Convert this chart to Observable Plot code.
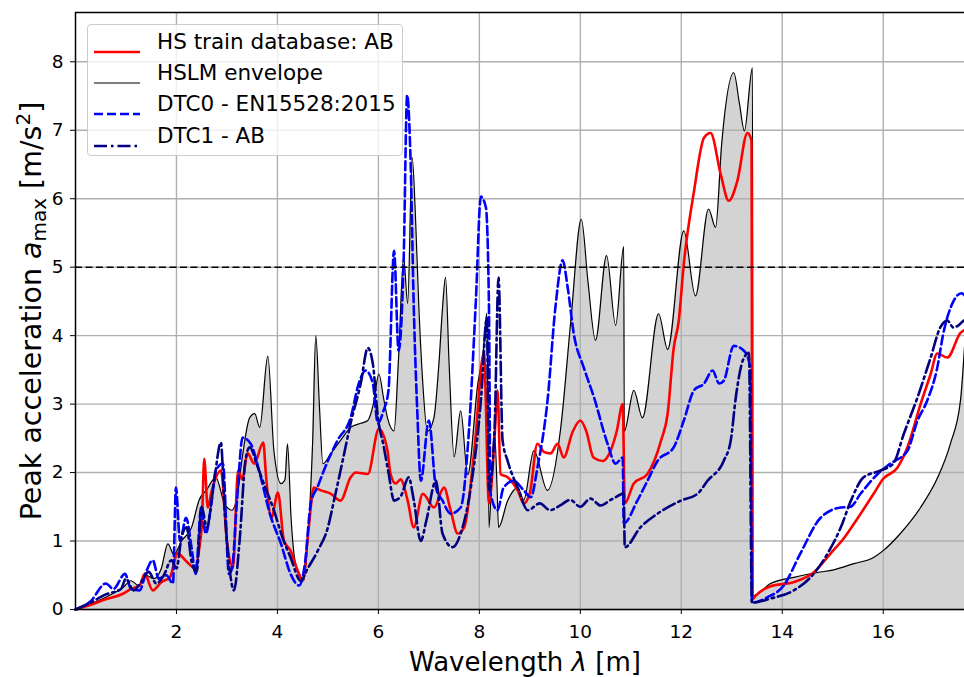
<!DOCTYPE html>
<html>
<head>
<meta charset="utf-8">
<script src="https://cdn.jsdelivr.net/npm/d3@7"></script>
<script src="https://cdn.jsdelivr.net/npm/@observablehq/plot@0.6"></script>
<style>
  html, body { margin: 0; padding: 0; overflow: hidden; background: #fff; }
  #wrap { position: relative; width: 964px; height: 677px; overflow: hidden; }
  #wrap > svg { position: absolute; left: 0; top: 0; }
  .legend {
    position: absolute; left: 87px; top: 24px; width: 314px; height: 130px;
    background: rgba(255,255,255,0.8); border: 1px solid #cccccc; border-radius: 4px;
    font-family: "DejaVu Sans", sans-serif; font-size: 21.5px; color: #000;
  }
  .legend .sample { position: absolute; left: 6px; width: 48px; height: 10px; }
  .legend .name { position: absolute; left: 69px; white-space: nowrap; line-height: 1; }
</style>
</head>
<body>
<div id="wrap"></div>
<script>
// Peak acceleration vs. wavelength, [wavelength m, a_max m/s²]
const hslmEnvelope = [[0,0],[0.3,0.08],[0.6,0.18],[0.94,0.32],[1.1,0.42],[1.25,0.35],[1.4,0.5],[1.55,0.45],[1.7,0.6],[1.83,0.96],[1.95,0.8],[2.1,1.0],[2.3,1.2],[2.45,1.6],[2.6,1.75],[2.78,1.93],[2.95,1.55],[3.1,1.45],[3.2,1.64],[3.3,2.2],[3.45,2.8],[3.55,2.86],[3.65,2.66],[3.81,3.7],[3.93,2.32],[4.07,1.84],[4.15,1.9],[4.2,2.42],[4.27,1.34],[4.35,0.7],[4.45,0.5],[4.52,0.42],[4.6,1.0],[4.7,2.5],[4.76,4.0],[4.83,3.0],[4.9,2.13],[5.06,2.28],[5.25,2.47],[5.45,2.66],[5.65,2.72],[5.79,2.76],[5.9,3.0],[6.01,3.44],[6.1,3.1],[6.18,2.8],[6.31,2.61],[6.4,3.68],[6.5,5.14],[6.58,4.47],[6.67,6.6],[6.73,5.82],[6.8,4.44],[6.88,3.3],[6.97,2.6],[7.1,2.8],[7.2,3.6],[7.27,4.4],[7.33,4.85],[7.4,3.6],[7.5,2.23],[7.63,2.9],[7.77,1.97],[7.97,3.3],[8.07,3.72],[8.15,4.33],[8.19,1.2],[8.25,2.0],[8.3,2.6],[8.35,1.8],[8.38,1.2],[8.56,1.59],[8.76,1.78],[8.88,1.6],[9.08,2.32],[9.35,1.74],[9.61,2.64],[9.81,4.2],[10.02,5.7],[10.15,4.8],[10.3,3.93],[10.52,5.17],[10.7,4.15],[10.86,5.3],[10.87,2.6],[11.06,3.2],[11.23,2.8],[11.55,4.32],[11.73,3.8],[12.05,5.53],[12.28,4.58],[12.54,5.85],[12.68,5.58],[12.8,6.8],[13.04,7.84],[13.15,7.4],[13.25,6.99],[13.41,7.91],[13.42,0.2],[13.77,0.38],[14.23,0.47],[14.7,0.54],[15.02,0.58],[15.42,0.67],[15.81,0.76],[16.0,0.86],[16.34,1.11],[16.74,1.49],[17.08,1.93],[17.33,2.42],[17.53,3.05],[17.62,3.95]];

const hsTrainAB = [[0,0],[0.3,0.07],[0.6,0.15],[0.94,0.23],[1.1,0.3],[1.27,0.35],[1.37,0.52],[1.53,0.28],[1.7,0.4],[1.87,0.47],[2.02,0.82],[2.2,0.7],[2.35,0.61],[2.5,1.2],[2.55,2.2],[2.62,1.49],[2.7,1.74],[2.88,2.03],[3.0,1.0],[3.12,0.61],[3.22,2.03],[3.3,1.9],[3.41,2.28],[3.54,2.13],[3.72,2.44],[3.77,1.99],[3.88,1.34],[4.01,1.71],[4.13,1.0],[4.26,0.86],[4.4,0.57],[4.5,0.42],[4.62,1.2],[4.72,1.78],[4.86,1.74],[5.06,1.69],[5.25,1.59],[5.45,1.93],[5.55,2.0],[5.79,1.98],[6.01,2.64],[6.18,2.32],[6.24,1.98],[6.34,1.84],[6.44,1.9],[6.58,1.59],[6.7,1.2],[6.88,1.69],[7.1,1.49],[7.3,1.78],[7.43,1.45],[7.57,1.11],[7.7,1.2],[7.9,2.32],[8.09,3.75],[8.19,1.55],[8.3,2.5],[8.36,3.2],[8.42,1.98],[8.56,1.93],[8.76,1.74],[8.88,1.55],[9.0,1.7],[9.15,2.42],[9.28,2.3],[9.41,2.28],[9.55,2.42],[9.67,2.22],[9.85,2.6],[10.0,2.76],[10.12,2.6],[10.26,2.22],[10.44,2.17],[10.6,2.32],[10.72,2.6],[10.84,3.0],[10.88,1.55],[11.06,1.84],[11.33,1.98],[11.6,2.47],[11.73,2.86],[11.85,3.82],[11.95,4.22],[12.05,5.05],[12.25,6.1],[12.45,6.89],[12.58,6.96],[12.78,6.36],[12.94,5.97],[13.11,6.26],[13.31,6.96],[13.39,6.85],[13.41,0.15],[13.47,0.2],[13.77,0.34],[14.23,0.4],[14.62,0.54],[14.96,0.82],[15.22,1.04],[15.49,1.33],[15.81,1.69],[16.0,1.91],[16.28,2.07],[16.48,2.37],[16.74,3.0],[16.94,3.44],[17.07,3.74],[17.27,3.68],[17.53,4.04],[17.65,4.1]];

const dtc0EN15528 = [[0,0],[0.3,0.12],[0.6,0.38],[0.75,0.3],[0.98,0.52],[1.1,0.3],[1.27,0.28],[1.4,0.55],[1.53,0.72],[1.65,0.45],[1.8,0.5],[1.93,0.38],[1.99,1.78],[2.07,1.0],[2.19,1.34],[2.3,0.9],[2.38,0.52],[2.49,1.49],[2.58,1.11],[2.7,1.6],[2.78,2.03],[2.92,2.13],[3.04,0.52],[3.1,0.6],[3.2,1.6],[3.31,2.51],[3.47,2.42],[3.67,1.93],[3.85,1.4],[4.07,0.96],[4.26,0.52],[4.43,0.35],[4.55,0.7],[4.66,1.55],[4.8,1.8],[4.92,2.03],[5.19,2.47],[5.45,2.8],[5.61,3.3],[5.75,3.49],[5.89,3.3],[5.99,2.72],[6.1,2.9],[6.2,3.2],[6.31,5.24],[6.4,3.78],[6.5,5.1],[6.57,7.51],[6.64,6.49],[6.7,4.44],[6.77,2.9],[6.84,1.88],[7.0,2.76],[7.14,1.78],[7.27,1.59],[7.43,1.4],[7.63,1.49],[7.79,2.57],[7.93,4.5],[8.03,6.03],[8.13,5.87],[8.19,4.44],[8.22,1.7],[8.36,1.45],[8.48,1.78],[8.68,1.88],[8.88,1.74],[9.02,1.64],[9.15,2.07],[9.35,3.05],[9.51,4.44],[9.65,5.1],[9.75,4.7],[9.87,4.03],[10.07,3.53],[10.27,3.1],[10.54,2.42],[10.7,2.13],[10.84,2.22],[10.86,1.26],[11.13,1.59],[11.33,1.88],[11.53,2.17],[11.85,2.37],[12.05,2.76],[12.25,3.2],[12.45,3.3],[12.62,3.49],[12.75,3.3],[12.84,3.34],[13.04,3.85],[13.24,3.78],[13.37,3.53],[13.4,0.1],[13.71,0.18],[14.03,0.35],[14.36,0.82],[14.76,1.34],[15.16,1.49],[15.35,1.5],[15.55,1.69],[15.89,1.98],[16.14,2.13],[16.48,2.32],[16.68,2.76],[16.87,3.05],[17.07,3.53],[17.19,4.03],[17.39,4.5],[17.55,4.62],[17.65,4.55]];

const dtc1AB = [[0,0],[0.3,0.1],[0.6,0.22],[0.9,0.3],[1.0,0.45],[1.15,0.28],[1.3,0.4],[1.45,0.55],[1.6,0.38],[1.75,0.5],[1.9,0.72],[2.0,0.6],[2.1,1.05],[2.2,1.2],[2.3,0.7],[2.4,0.55],[2.5,1.5],[2.6,1.2],[2.75,1.9],[2.88,2.44],[2.95,1.5],[3.05,0.6],[3.14,0.28],[3.25,1.0],[3.37,2.2],[3.45,2.37],[3.6,2.1],[3.75,1.8],[3.93,1.45],[4.1,1.05],[4.26,0.76],[4.46,0.42],[4.6,0.6],[4.8,0.86],[5.0,1.2],[5.12,1.59],[5.3,2.2],[5.45,2.72],[5.65,3.3],[5.79,3.82],[5.89,3.59],[5.99,2.8],[6.1,2.4],[6.2,2.0],[6.31,1.59],[6.44,1.65],[6.6,1.93],[6.7,1.6],[6.84,1.0],[6.95,1.3],[7.14,1.88],[7.27,1.11],[7.47,0.91],[7.63,1.11],[7.83,1.78],[8.03,3.05],[8.15,4.26],[8.19,1.74],[8.3,2.6],[8.38,4.85],[8.46,2.47],[8.56,2.17],[8.76,1.78],[8.96,1.45],[9.2,1.55],[9.4,1.45],[9.6,1.52],[9.8,1.6],[10.0,1.5],[10.2,1.62],[10.4,1.52],[10.6,1.6],[10.8,1.68],[10.86,1.7],[10.88,0.91],[11.19,1.2],[11.53,1.4],[11.99,1.59],[12.32,1.69],[12.52,1.88],[12.84,2.17],[12.98,2.47],[13.08,3.1],[13.22,3.64],[13.34,3.75],[13.4,0.1],[13.77,0.16],[14.23,0.28],[14.56,0.47],[14.9,0.82],[15.16,1.2],[15.36,1.59],[15.61,1.93],[15.95,2.03],[16.2,2.13],[16.41,2.57],[16.68,3.1],[16.94,3.68],[17.13,4.12],[17.27,4.22],[17.39,4.12],[17.59,4.22]];

const comfortLimit = 5;   // m/s² acceleration limit
const xTicks = [2, 4, 6, 8, 10, 12, 14, 16];
const yTicks = [0, 1, 2, 3, 4, 5, 6, 7, 8];
const xDomain = [0, 17.61];
const yDomain = [0, 8.72];

const seriesNames = ["HS train database: AB", "HSLM envelope", "DTC0 - EN15528:2015", "DTC1 - AB"];
const seriesColors = ["#ff0000", "#000000", "#0000ff", "#000080"];
const seriesDash = [null, null, "9,4", "13,4,2.5,4"];
const seriesWidth = [2.6, 1.2, 2.6, 2.6];

const rows = pts => pts.map(([x, y]) => ({x, y}));
const env = rows(hslmEnvelope), red = rows(hsTrainAB), d0 = rows(dtc0EN15528), d1 = rows(dtc1AB);

const chart = Plot.plot({
  width: 964, height: 677,
  marginLeft: 75, marginRight: 0, marginTop: 12, marginBottom: 68,
  style: {fontFamily: "DejaVu Sans, sans-serif", fontSize: "18.5px", color: "#000", background: "transparent"},
  x: {domain: xDomain},
  y: {domain: yDomain},
  marks: [
    Plot.areaY(env, {x: "x", y: "y", fill: "#d3d3d3", curve: "monotone-x"}),
    Plot.gridX(xTicks, {stroke: "#b0b0b0", strokeOpacity: 1, strokeWidth: 1.4}),
    Plot.gridY(yTicks, {stroke: "#b0b0b0", strokeOpacity: 1, strokeWidth: 1.4}),
    Plot.line(env, {x: "x", y: "y", stroke: seriesColors[1], strokeWidth: seriesWidth[1], curve: "monotone-x"}),
    Plot.line(red, {x: "x", y: "y", stroke: seriesColors[0], strokeWidth: seriesWidth[0], curve: "monotone-x"}),
    Plot.line(d0, {x: "x", y: "y", stroke: seriesColors[2], strokeWidth: seriesWidth[2], strokeDasharray: seriesDash[2], curve: "monotone-x"}),
    Plot.line(d1, {x: "x", y: "y", stroke: seriesColors[3], strokeWidth: seriesWidth[3], strokeDasharray: seriesDash[3], curve: "monotone-x"}),
    Plot.ruleY([comfortLimit], {stroke: "#000", strokeWidth: 1.6, strokeDasharray: "7,3.5"}),
    Plot.axisX(xTicks, {tickSize: 5, tickPadding: 10, label: null, tickFormat: d => String(d)}),
    Plot.axisY(yTicks, {tickSize: 5, tickPadding: 7, label: null, tickFormat: d => String(d)}),
    // axes spines: left, bottom, top (the right one lies past the page edge)
    Plot.ruleX([xDomain[0]], {stroke: "#000", strokeWidth: 1.5}),
    Plot.ruleY([yDomain[0], yDomain[1]], {stroke: "#000", strokeWidth: 1.5})
  ]
});

const wrap = document.getElementById("wrap");
wrap.appendChild(chart);

// axis titles with math-style parts
const svg = d3.select(chart);
const xl = svg.append("text")
  .attr("x", 525).attr("y", 671).attr("text-anchor", "middle")
  .style("font-family", "DejaVu Sans, sans-serif").style("font-size", "26px").attr("fill", "#000");
xl.append("tspan").text("Wavelength ");
xl.append("tspan").style("font-style", "italic").text("λ");
xl.append("tspan").text(" [m]");

const yl = svg.append("text")
  .attr("transform", "translate(41,311) rotate(-90)").attr("text-anchor", "middle")
  .style("font-family", "DejaVu Sans, sans-serif").style("font-size", "28.5px").attr("fill", "#000");
yl.append("tspan").text("Peak acceleration ");
yl.append("tspan").style("font-style", "italic").text("a");
yl.append("tspan").attr("dy", 5).style("font-size", "20px").text("max");
yl.append("tspan").attr("dy", -5).text(" [m/s");
yl.append("tspan").attr("dy", -11).style("font-size", "20px").text("2");
yl.append("tspan").attr("dy", 11).text("]");

// legend box
const legend = document.createElement("div");
legend.className = "legend";
const rowCenters = [18, 49, 80, 112];
seriesNames.forEach((name, i) => {
  const dash = seriesDash[i] ? `stroke-dasharray="${seriesDash[i]}"` : "";
  const sample = document.createElement("div");
  sample.className = "sample";
  sample.style.top = (rowCenters[i] - 6) + "px";
  sample.innerHTML = `<svg width="48" height="10"><line x1="0" x2="46" y1="5" y2="5" stroke="${seriesColors[i]}" stroke-width="${seriesWidth[i]}" ${dash}/></svg>`;
  const label = document.createElement("div");
  label.className = "name";
  label.style.top = (rowCenters[i] - 12) + "px";
  label.textContent = name;
  legend.appendChild(sample);
  legend.appendChild(label);
});
wrap.appendChild(legend);
</script>
</body>
</html>
